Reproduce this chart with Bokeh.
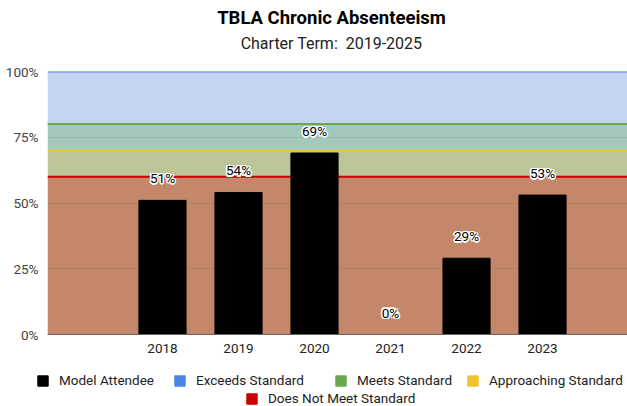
from bokeh.plotting import figure
from bokeh.layouts import column
from bokeh.models import (Range1d, FixedTicker, PrintfTickFormatter, BoxAnnotation, Span,
                          Legend, LegendItem, Label, LabelSet, ColumnDataSource)
from bokeh.core.properties import value
from bokeh.embed import file_html
from bokeh.resources import INLINE

# ---- data ----
years = [2018, 2019, 2020, 2021, 2022, 2023]
model_attendee = [51, 54, 69, 0, 29, 53]
band_names = ["Exceeds Standard", "Meets Standard", "Approaching Standard", "Does Not Meet Standard"]
band_bottoms = [80, 70, 60, 0]
band_tops = [100, 80, 70, 60]
band_line_colors = ["#4a86e8", "#6aa84f", "#f1c232", "#cc0000"]
band_fill_colors = ["#c4d4f1", "#a3c8bc", "#bdc498", "#c4876a"]
y_ticks = [0, 25, 50, 75, 100]
title_text = "TBLA Chronic Absenteeism"
subtitle_text = "Charter Term:\u00a0 2019-2025"

FONT = "Roboto"
W = 627


def blank_fig(h):
    f = figure(width=W, height=h, x_range=Range1d(0, 1), y_range=Range1d(0, 1),
               output_backend="svg", toolbar_location=None,
               x_axis_location=None, y_axis_location=None, min_border=0,
               frame_align=False)
    f.outline_line_color = None
    f.xgrid.visible = False
    f.ygrid.visible = False
    f.title.visible = False
    return f


# ---- title figure ----
top = blank_fig(60)
top.add_layout(Label(x=331, y=43, x_units="screen", y_units="screen", text=title_text,
                     text_align="center", text_baseline="middle", text_font=FONT,
                     text_font_size="18.5px", text_font_style="bold", text_color="#000000"))
top.add_layout(Label(x=331, y=17, x_units="screen", y_units="screen", text=subtitle_text,
                     text_align="center", text_baseline="middle", text_font=FONT,
                     text_font_size="16px", text_color="#222222"))

# ---- main chart ----
p = figure(width=W, height=302, x_range=Range1d(2016.487, 2024.118), y_range=Range1d(0, 100),
           output_backend="svg", toolbar_location=None, frame_align=False,
           min_border_left=47, min_border_right=0, min_border_top=11, min_border_bottom=28)
p.outline_line_color = None
p.title.visible = False

for b, t, fc in zip(band_bottoms, band_tops, band_fill_colors):
    p.add_layout(BoxAnnotation(bottom=b, top=t, fill_color=fc, fill_alpha=1.0,
                               line_color=None, level="image"))

p.xgrid.visible = False
p.ygrid.ticker = FixedTicker(ticks=y_ticks)
p.ygrid.grid_line_color = "black"
p.ygrid.grid_line_alpha = 0.08

for t, lc in zip(band_tops, band_line_colors):
    p.add_layout(Span(location=t, dimension="width", line_color=lc, line_width=2, level="underlay"))

src = ColumnDataSource(dict(x=years, top=model_attendee,
                            label=[f"{v}%" for v in model_attendee]))
r_bar = p.vbar(x="x", top="top", width=0.62, source=src, fill_color="black", line_color="black")

for dx, dy in [(-1.5, 0), (1.5, 0), (0, -1.5), (0, 1.5), (-1.1, -1.1), (1.1, 1.1), (-1.1, 1.1), (1.1, -1.1)]:
    p.add_layout(LabelSet(x="x", y="top", text="label", source=src, x_offset=dx, y_offset=22 + dy,
                          text_align="center", text_baseline="middle", text_font=value(FONT),
                          text_font_size=value("13.5px"), text_color="white"))
p.add_layout(LabelSet(x="x", y="top", text="label", source=src, x_offset=0, y_offset=22,
                      text_align="center", text_baseline="middle", text_font=value(FONT),
                      text_font_size=value("13.5px"), text_color="black"))

p.xaxis.ticker = FixedTicker(ticks=years)
p.xaxis.major_tick_line_color = None
p.xaxis.minor_tick_line_color = None
p.xaxis.axis_line_color = "#666666"
p.xaxis.major_label_standoff = 3
p.xaxis.major_label_text_font = FONT
p.xaxis.major_label_text_font_size = "13.5px"
p.xaxis.major_label_text_color = "#222222"

p.yaxis.ticker = FixedTicker(ticks=y_ticks)
p.yaxis.formatter = PrintfTickFormatter(format="%d%%")
p.yaxis.major_tick_line_color = None
p.yaxis.minor_tick_line_color = None
p.yaxis.axis_line_color = None
p.yaxis.major_label_standoff = 3
p.yaxis.major_label_text_font = FONT
p.yaxis.major_label_text_font_size = "13.5px"
p.yaxis.major_label_text_color = "#444444"

# ---- legend figure ----
leg = blank_fig(44)
legend_names = ["Model Attendee"] + band_names
legend_colors = ["black"] + band_line_colors
legend_pos = [(36, 18), (173, 18), (334, 18), (466, 18), (245, 0)]
for name, col, (lx, ly), tv in zip(legend_names, legend_colors, legend_pos, [model_attendee[0]] + band_tops):
    r = leg.vbar(x=[years[0]], top=[tv], width=0.5, fill_color=col, line_color=col)
    leg.add_layout(Legend(items=[LegendItem(label=name, renderers=[r])], orientation="horizontal",
                          location=(lx, ly), padding=0, margin=0, spacing=0, label_standoff=10,
                          glyph_width=13, glyph_height=13, label_height=13,
                          label_text_font=FONT, label_text_font_size="13.5px",
                          label_text_color="#222222", border_line_color=None,
                          background_fill_alpha=0))

layout = column(top, p, leg, spacing=0)
open("out.html", "w").write(file_html(layout, INLINE))
